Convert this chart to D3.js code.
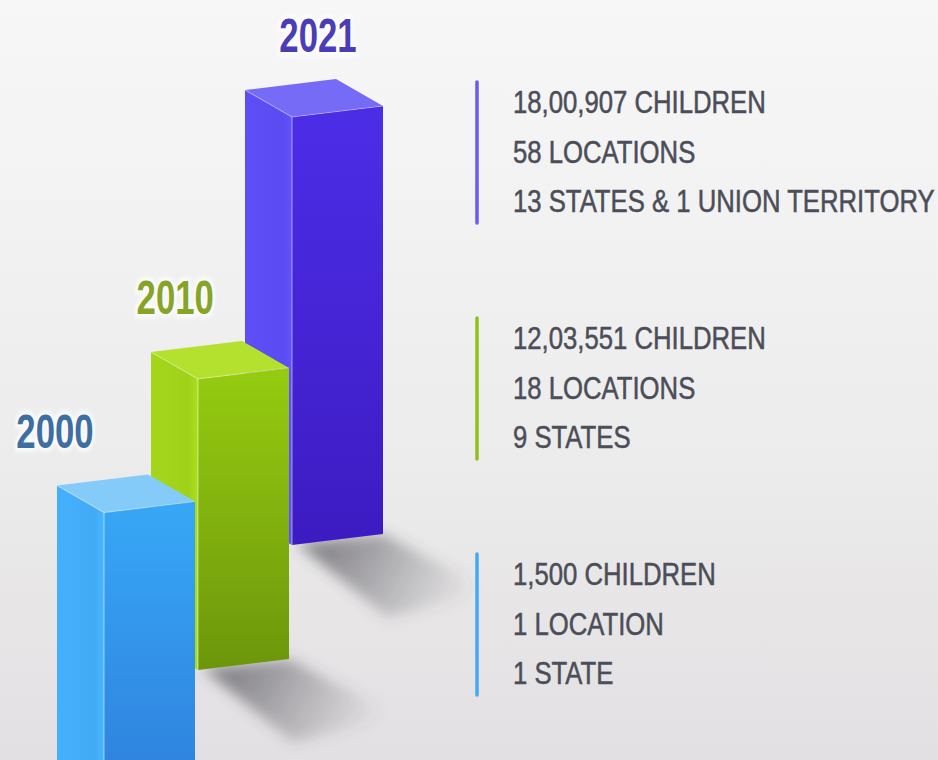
<!DOCTYPE html>
<html>
<head>
<meta charset="utf-8">
<script src="https://cdn.jsdelivr.net/npm/d3@7"></script>
<style>
  html, body { margin: 0; padding: 0; background: #eeeeee; }
  svg { display: block; }
</style>
</head>
<body>
<svg id="chart" width="938" height="760"></svg>
<script>
// ---- data -------------------------------------------------------------
const years = ["2000", "2010", "2021"];
const children = [1500, 1203551, 1800907];
const locations = [1, 18, 58];
const states = [1, 9, 13];
const unionTerritories = [0, 0, 1];
// relative column heights (tallest column = 100)
const columnHeight = [66, 68, 100];

// ---- styling ----------------------------------------------------------
const theme = {
  "2000": { top: "#84cbfa", left: "#42abf6", front0: "#37a6f5", front1: "#2f80dc", label: "#3e6fa3", rule: "#45a8f3" },
  "2010": { top: "#b4e02e", left: "#9fd11a", front0: "#94ca10", front1: "#6c960b", label: "#86a427", rule: "#8ec21a" },
  "2021": { top: "#766bf7", left: "#5a4cf1", front0: "#4c2de6", front1: "#3d1bc2", label: "#4b3db6", rule: "#6a5af0" }
};
const textColor = "#4b4e58";
const sans = "'Liberation Sans', Arial, 'DejaVu Sans', sans-serif";
const narrow = 0.843;      // horizontal squeeze for the condensed look

// Indian digit grouping: 18,00,907
function formatIndian(n) {
  const s = String(n);
  if (s.length <= 3) return s;
  const last3 = s.slice(-3);
  let rest = s.slice(0, -3);
  const parts = [];
  while (rest.length > 2) { parts.unshift(rest.slice(-2)); rest = rest.slice(0, -2); }
  if (rest) parts.unshift(rest);
  return parts.join(",") + "," + last3;
}
const plural = (n, word, many) => `${n} ${n === 1 ? word : many}`;

const rows = years.map((year, i) => ({
  year,
  height: columnHeight[i],
  lines: [
    `${formatIndian(children[i])} CHILDREN`,
    plural(locations[i], "LOCATION", "LOCATIONS"),
    plural(states[i], "STATE", "STATES") +
      (unionTerritories[i] ? ` & ${plural(unionTerritories[i], "UNION TERRITORY", "UNION TERRITORIES")}` : "")
  ]
}));

// ---- layout -----------------------------------------------------------
const W = 938, H = 760;
const svg = d3.select("#chart");

const xFront = d3.scalePoint().domain(years).range([104, 292]);   // front vertical edge of each column
const yFloor = d3.scalePoint().domain(years).range([795, 545]);   // where each column meets the floor
const yHeight = d3.scaleLinear().domain([0, 100]).range([0, 428]);
const xLabel = d3.scaleLinear().domain([2000, 2021]).range([55, 318]);
const yBlock = d3.scalePoint().domain(years.slice().reverse()).range([112, 584]);

// box projection: left face and front face directions
const L = { dx: -47, dy: -27 };
const R = { dx: 91, dy: -11 };

const defs = svg.append("defs");

const bg = defs.append("linearGradient").attr("id", "bg").attr("x1", 0).attr("y1", 0).attr("x2", 0).attr("y2", 1);
bg.append("stop").attr("offset", "0%").attr("stop-color", "#f7f7f7");
bg.append("stop").attr("offset", "55%").attr("stop-color", "#eeeded");
bg.append("stop").attr("offset", "100%").attr("stop-color", "#e2e0e2");

defs.append("filter").attr("id", "shadowBlur").attr("x", "-50%").attr("y", "-50%").attr("width", "200%").attr("height", "200%")
  .append("feGaussianBlur").attr("stdDeviation", 7);
defs.append("filter").attr("id", "glow").attr("x", "-30%").attr("y", "-50%").attr("width", "160%").attr("height", "200%")
  .append("feGaussianBlur").attr("stdDeviation", 2.5);

svg.append("rect").attr("width", W).attr("height", H).attr("fill", "url(#bg)");

const geom = rows.map(r => {
  const fx = xFront(r.year);
  const fb = yFloor(r.year);
  const ft = fb - yHeight(r.height);
  return { ...r, fx, fb, ft };
});

// per-column gradients
geom.forEach(g => {
  const c = theme[g.year];
  const fg = defs.append("linearGradient").attr("id", `front-${g.year}`)
    .attr("gradientUnits", "userSpaceOnUse")
    .attr("x1", 0).attr("y1", g.ft).attr("x2", 0).attr("y2", Math.min(g.fb, 800));
  fg.append("stop").attr("offset", "0%").attr("stop-color", c.front0);
  fg.append("stop").attr("offset", "100%").attr("stop-color", c.front1);

  const lg = defs.append("linearGradient").attr("id", `left-${g.year}`)
    .attr("x1", 0).attr("y1", 0).attr("x2", 1).attr("y2", 0);
  lg.append("stop").attr("offset", "0%").attr("stop-color", d3.color(c.left).brighter(0.08));
  lg.append("stop").attr("offset", "80%").attr("stop-color", c.left);
  lg.append("stop").attr("offset", "100%").attr("stop-color", d3.color(c.left).brighter(0.2));

  const sg = defs.append("linearGradient").attr("id", `shadow-${g.year}`)
    .attr("gradientUnits", "userSpaceOnUse")
    .attr("x1", g.fx + 40).attr("y1", g.fb - 6).attr("x2", g.fx + 170).attr("y2", g.fb + 70);
  sg.append("stop").attr("offset", "0%").attr("stop-color", "#4a4850").attr("stop-opacity", 0.6);
  sg.append("stop").attr("offset", "100%").attr("stop-color", "#4a4850").attr("stop-opacity", 0);
});

const pts = a => a.map(p => p.join(",")).join(" ");

// columns drawn back to front
const columns = svg.append("g").selectAll("g.column")
  .data(geom.slice().reverse())
  .join("g").attr("class", "column");

// cast shadow on the floor
columns.append("polygon")
  .attr("points", g => pts([
    [g.fx + 4, g.fb - 2],
    [g.fx + R.dx, g.fb + R.dy],
    [g.fx + R.dx + 110, g.fb + R.dy + 58],
    [g.fx + 95, g.fb + 72]
  ]))
  .attr("fill", g => `url(#shadow-${g.year})`)
  .attr("filter", "url(#shadowBlur)");

// left face
columns.append("polygon")
  .attr("points", g => pts([
    [g.fx + L.dx, g.ft + L.dy], [g.fx, g.ft], [g.fx, g.fb], [g.fx + L.dx, g.fb + L.dy]
  ]))
  .attr("fill", g => `url(#left-${g.year})`);

// front face
columns.append("polygon")
  .attr("points", g => pts([
    [g.fx, g.ft], [g.fx + R.dx, g.ft + R.dy], [g.fx + R.dx, g.fb + R.dy], [g.fx, g.fb]
  ]))
  .attr("fill", g => `url(#front-${g.year})`);

// top face
columns.append("polygon")
  .attr("points", g => pts([
    [g.fx + L.dx, g.ft + L.dy], [g.fx + L.dx + R.dx, g.ft + L.dy + R.dy], [g.fx + R.dx, g.ft + R.dy], [g.fx, g.ft]
  ]))
  .attr("fill", g => theme[g.year].top);

// highlight on the near vertical edge and top rim
columns.append("line")
  .attr("x1", g => g.fx).attr("x2", g => g.fx)
  .attr("y1", g => g.ft).attr("y2", g => g.fb)
  .attr("stroke", "#ffffff").attr("stroke-opacity", 0.35).attr("stroke-width", 1.5);
columns.append("polyline")
  .attr("points", g => pts([[g.fx + L.dx, g.ft + L.dy], [g.fx, g.ft], [g.fx + R.dx, g.ft + R.dy]]))
  .attr("fill", "none").attr("stroke", "#ffffff").attr("stroke-opacity", 0.3).attr("stroke-width", 1.2);

// year labels
const labels = svg.append("g").selectAll("g.year")
  .data(geom)
  .join("g").attr("class", "year")
  .attr("transform", g => `translate(${xLabel(+g.year) - (g.year === "2010" ? 5 : 0)},${g.ft - 65}) scale(0.71,1)`);
labels.append("text")
  .attr("text-anchor", "middle")
  .attr("font-family", sans).attr("font-weight", "bold").attr("font-size", 49)
  .attr("fill", "none").attr("stroke", "#ffffff").attr("stroke-width", 7).attr("stroke-opacity", 0.8)
  .attr("filter", "url(#glow)")
  .text(g => g.year);
labels.append("text")
  .attr("text-anchor", "middle")
  .attr("font-family", sans).attr("font-weight", "bold").attr("font-size", 49)
  .attr("fill", g => theme[g.year].label)
  .text(g => g.year);

// detail blocks on the right
const blocks = svg.append("g").selectAll("g.block")
  .data(geom)
  .join("g").attr("class", "block")
  .attr("transform", g => `translate(0,${yBlock(g.year)})`);

blocks.append("line")
  .attr("x1", 477).attr("x2", 477)
  .attr("y1", -30).attr("y2", 111)
  .attr("stroke", g => theme[g.year].rule)
  .attr("stroke-width", 3.5).attr("stroke-linecap", "round");

blocks.selectAll("text")
  .data(g => g.lines)
  .join("text")
  .attr("transform", (d, i) => `translate(513,${1 + i * 49.5}) scale(${narrow},1)`)
  .attr("font-family", sans).attr("font-size", 30.5)
  .attr("fill", textColor)
  .attr("stroke", textColor).attr("stroke-width", 0.5)
  .text(d => d);
</script>
</body>
</html>
